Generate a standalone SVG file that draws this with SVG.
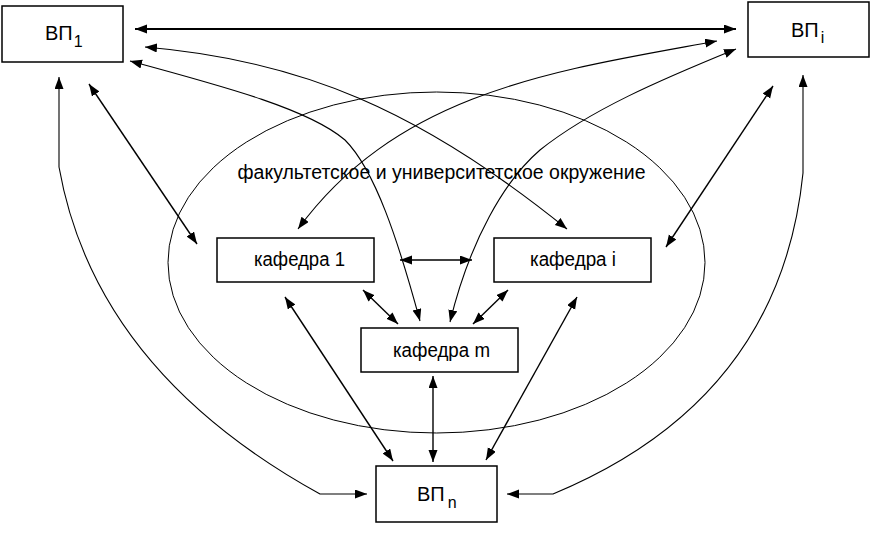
<svg xmlns="http://www.w3.org/2000/svg" width="871" height="541" viewBox="0 0 871 541">
<style>
.box{fill:#fff;stroke:#000;stroke-width:1.5}
.t{font-family:"Liberation Sans",Arial,sans-serif;font-size:20px;fill:#000}
.sub{font-size:16px}
.c{fill:none;stroke:#000;stroke-width:1.1;marker-start:url(#ah);marker-end:url(#ah)}
.s{stroke-width:1.4}
.env{fill:none;stroke:#000;stroke-width:1}
</style>
<defs>
<marker id="ah" markerUnits="userSpaceOnUse" markerWidth="13" markerHeight="10" refX="12" refY="4.5" orient="auto-start-reverse" viewBox="0 0 13 10">
<path d="M0,0 L12,4.5 L0,9 z" fill="#000"/>
</marker>
</defs>
<rect width="871" height="541" fill="#fff"/>
<g id="environment">
<ellipse class="env" cx="436.5" cy="262.5" rx="268.5" ry="170.5"/>
<text class="t" x="237.5" y="179" textLength="408" lengthAdjust="spacingAndGlyphs">факультетское и университетское окружение</text>
</g>
<g id="connectors">
<line class="c s" x1="135" y1="29" x2="736" y2="29" style="stroke-width:2"/>
<path class="c" d="M145,47 C300,60 420,110 567,229"/>
<path class="c" d="M130,61 C230,88 310,110 345,140 C375,170 398,240 420,321"/>
<path class="c" d="M717,41 C560,70 400,90 298,229"/>
<path class="c" d="M736,49 C660,80 590,110 540,150 C505,180 470,240 450,322"/>
<line class="c s" x1="89" y1="84" x2="197" y2="244"/>
<line class="c s" x1="773" y1="86" x2="666" y2="247"/>
<path class="c" d="M59,77 L59,167 Q95,370 320,494 L367,494"/>
<path class="c" d="M803,75 L803,173 Q780,400 553,494 L507,494"/>
<line class="c s" x1="363" y1="290" x2="398" y2="324"/>
<line class="c s" x1="508" y1="290" x2="473" y2="324"/>
<line class="c s" x1="285" y1="297" x2="393" y2="461"/>
<line class="c s" x1="577" y1="297" x2="486" y2="460"/>
<line class="c s" x1="433" y1="376" x2="433" y2="462"/>
<line class="c s" x1="400" y1="260" x2="472" y2="260"/>
</g>
<g id="vp1">
<rect class="box" x="2" y="6" width="121" height="56"/>
<text class="t" x="45" y="40">ВП<tspan class="sub" dx="1" dy="7">1</tspan></text>
</g>
<g id="vpi">
<rect class="box" x="748" y="2" width="121" height="55"/>
<text class="t" x="791" y="37">ВП<tspan class="sub" dx="2" dy="6">i</tspan></text>
</g>
<g id="vpn">
<rect class="box" x="376" y="466" width="121" height="56"/>
<text class="t" x="417" y="501">ВП<tspan class="sub" dx="3" dy="7">n</tspan></text>
</g>
<g id="kaf1">
<rect class="box" x="217" y="238" width="157" height="44"/>
<text class="t" x="254" y="266" textLength="91" lengthAdjust="spacingAndGlyphs">кафедра 1</text>
</g>
<g id="kafi">
<rect class="box" x="494" y="238" width="157" height="44"/>
<text class="t" x="530" y="266" textLength="86" lengthAdjust="spacingAndGlyphs">кафедра i</text>
</g>
<g id="kafm">
<rect class="box" x="361" y="328" width="157" height="44"/>
<text class="t" x="393" y="357" textLength="97" lengthAdjust="spacingAndGlyphs">кафедра m</text>
</g>
</svg>
